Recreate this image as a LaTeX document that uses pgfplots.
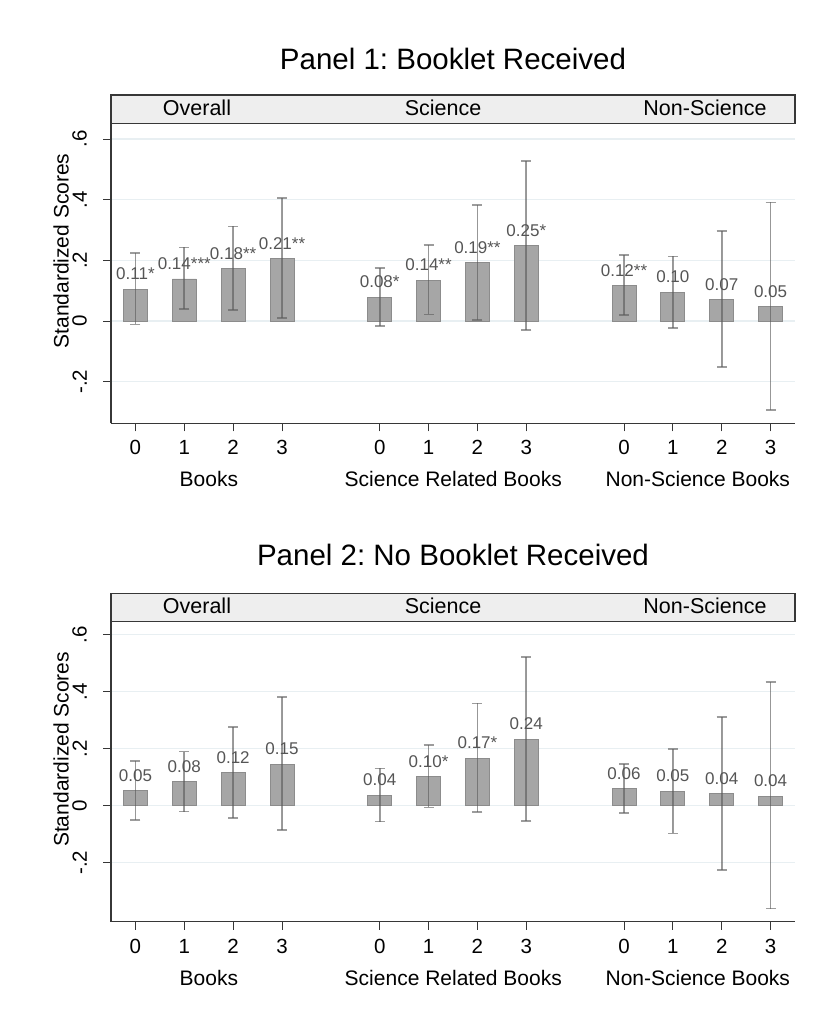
\documentclass[border=0pt]{standalone}
\usepackage{fontspec}
\setmainfont{Liberation Sans}
\usepackage{pgfplots}
\usepackage{pgfplotstable}
\pgfplotsset{compat=1.18}
\frenchspacing

\definecolor{barfill}{RGB}{166,166,166}
\definecolor{barline}{RGB}{140,140,140}
\definecolor{errc}{RGB}{90,90,90}
\definecolor{gridc}{RGB}{232,239,242}
\definecolor{stripc}{RGB}{238,238,238}
\definecolor{axc}{RGB}{55,55,55}
\definecolor{labc}{RGB}{85,85,85}

\pgfplotstableread{
x  y     lo     hi    lab
0  0.105 -0.011 0.225 0.11*
1  0.139 0.040  0.243 0.14***
2  0.172 0.037  0.312 0.18**
3  0.205 0.010  0.406 0.21**
5  0.078 -0.016 0.174 0.08*
6  0.135 0.022  0.250 0.14**
7  0.192 0.004  0.382 0.19**
8  0.248 -0.029 0.528 0.25*
10 0.116 0.020  0.217 0.12**
11 0.094 -0.023 0.213 0.10
12 0.070 -0.152 0.296 0.07
13 0.047 -0.294 0.391 0.05
}\tabA

\pgfplotstableread{
x  y     lo     hi    lab
0  0.053 -0.050 0.157 0.05
1  0.084 -0.021 0.190 0.08
2  0.116 -0.044 0.277 0.12
3  0.146 -0.086 0.382 0.15
5  0.036 -0.056 0.131 0.04
6  0.102 -0.006 0.213 0.10*
7  0.167 -0.022 0.359 0.17*
8  0.234 -0.053 0.522 0.24
10 0.059 -0.026 0.146 0.06
11 0.050 -0.097 0.199 0.05
12 0.042 -0.225 0.312 0.04
13 0.034 -0.361 0.433 0.04
}\tabB

\newcommand{\fs}[1]{\fontsize{#1}{#1}\selectfont}

\pgfplotsset{panel/.style={
  scale only axis, width=684pt, height=300pt,
  xmin=-0.5, xmax=13.5,
  axis x line*=bottom, axis y line*=left,
  axis line style={axc, line width=1.3pt},
  xtick={0,1,2,3,5,6,7,8,10,11,12,13},
  xticklabels={0,1,2,3,0,1,2,3,0,1,2,3},
  ytick={-0.2,0,0.2,0.4,0.6},
  yticklabels={-.2,0,.2,.4,.6},
  tick align=outside,
  major tick length=8pt,
  tick style={axc, line width=1pt},
  ymajorgrids, major grid style={gridc, line width=1.2pt},
  xticklabel style={font=\fs{20.5}, anchor=north, inner sep=0pt},
  xticklabel shift=9pt,
  yticklabel style={font=\fs{20.5}, rotate=90, anchor=south, inner sep=0pt},
  yticklabel shift=16pt,
  ybar, bar width=24pt,
  clip=false,
  point meta=explicit symbolic,
  nodes near coords,
  every node near coord/.append style={font=\fs{17}, color=labc, anchor=south, inner sep=0pt, yshift=9pt},
}}

\pgfplotsset{barplot/.style={fill=barfill, draw=barline, line width=0.8pt,
  error bars/.cd, y dir=both, y explicit,
  error bar style={errc, opacity=0.6, line width=1.6pt},
  error mark options={errc, opacity=0.6, line width=1.6pt, mark size=5pt, rotate=90}}}

\begin{document}
\begin{tikzpicture}
\useasboundingbox (0,0) rectangle (821pt,1031pt);

% Panel 1
\node[font=\fs{29.5}, anchor=base] at (453pt,961.7pt) {Panel 1: Booklet Received};
\begin{axis}[panel, at={(111pt,607.7pt)}, anchor=south west, ymin=-0.337, ymax=0.652]
\addplot[barplot] table[x=x, y=y, y error plus expr=\thisrow{hi}-\thisrow{y}, y error minus expr=\thisrow{y}-\thisrow{lo}, meta=lab]{\tabA};
\end{axis}
\draw[axc, line width=1.3pt, fill=stripc] (111pt,907.7pt) rectangle (795pt,936pt);
\node[font=\fs{21.5}, anchor=base] at (197pt,915.7pt) {Overall};
\node[font=\fs{21.5}, anchor=base] at (443pt,915.7pt) {Science};
\node[font=\fs{21.5}, anchor=base] at (705pt,915.7pt) {Non-Science};
\node[font=\fs{21}, rotate=90] at (61pt,780pt) {Standardized Scores};
\node[font=\fs{21}, anchor=base] at (208.9pt,544.3pt) {Books};
\node[font=\fs{21}, anchor=base] at (453.3pt,544.3pt) {Science Related Books};
\node[font=\fs{21}, anchor=base] at (697.8pt,544.3pt) {Non-Science Books};

% Panel 2
\node[font=\fs{29.5}, anchor=base] at (453pt,465.3pt) {Panel 2: No Booklet Received};
\begin{axis}[panel, at={(111pt,109.3pt)}, anchor=south west, ymin=-0.407, ymax=0.6456]
\addplot[barplot] table[x=x, y=y, y error plus expr=\thisrow{hi}-\thisrow{y}, y error minus expr=\thisrow{y}-\thisrow{lo}, meta=lab]{\tabB};
\end{axis}
\draw[axc, line width=1.3pt, fill=stripc] (111pt,409.4pt) rectangle (795pt,437.7pt);
\node[font=\fs{21.5}, anchor=base] at (197pt,417.4pt) {Overall};
\node[font=\fs{21.5}, anchor=base] at (443pt,417.4pt) {Science};
\node[font=\fs{21.5}, anchor=base] at (705pt,417.4pt) {Non-Science};
\node[font=\fs{21}, rotate=90] at (61pt,281.6pt) {Standardized Scores};
\node[font=\fs{21}, anchor=base] at (208.9pt,45.9pt) {Books};
\node[font=\fs{21}, anchor=base] at (453.3pt,45.9pt) {Science Related Books};
\node[font=\fs{21}, anchor=base] at (697.8pt,45.9pt) {Non-Science Books};
\end{tikzpicture}
\end{document}
